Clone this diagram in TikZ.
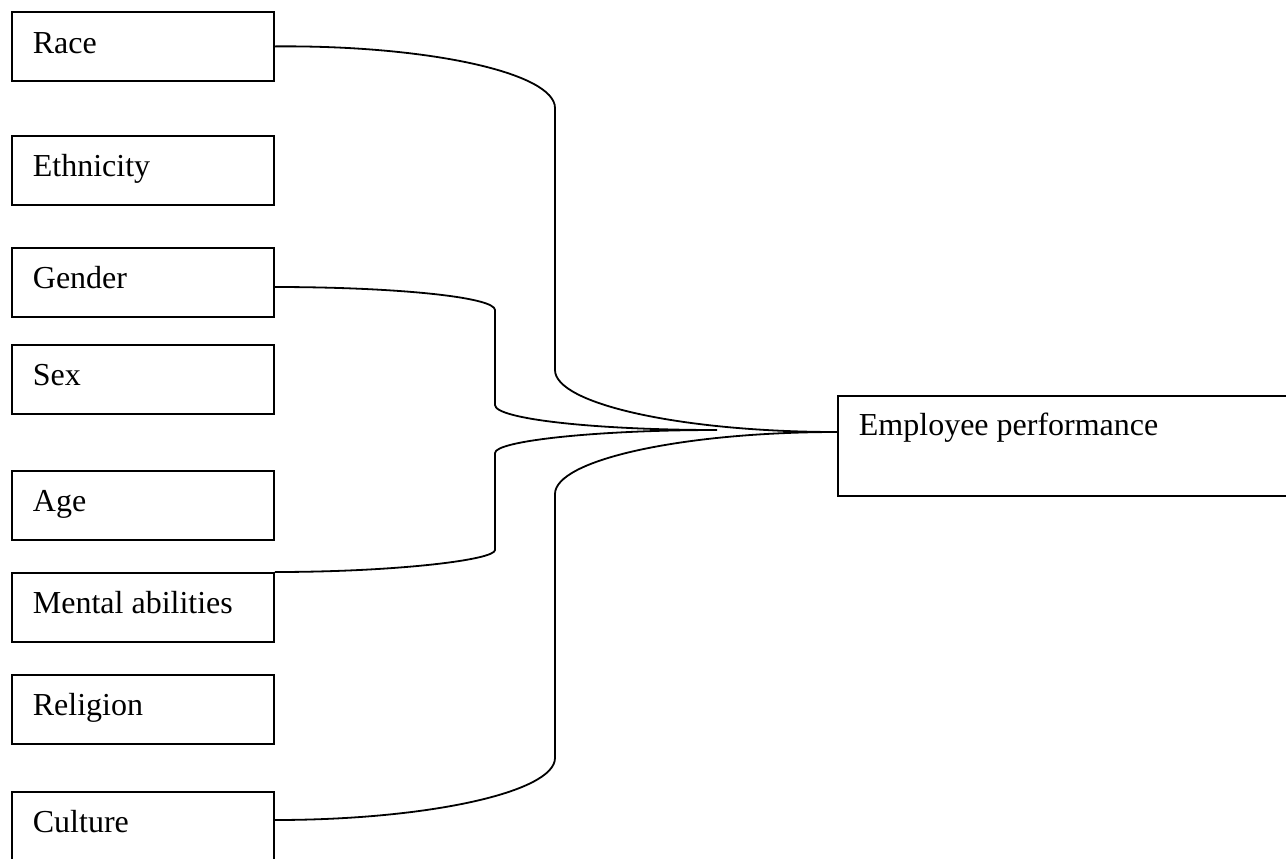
\documentclass[tikz,border=0pt]{standalone}
\usepackage{fontspec}
\setmainfont{Liberation Serif}
\usetikzlibrary{calc}
\begin{document}
\begin{tikzpicture}[x=0.75pt,y=-0.75pt,line width=1.35pt,
  box/.style={draw,line width=1.35pt,minimum width=196.5pt,minimum height=51.75pt,anchor=north west,inner sep=0pt},
  lbl/.style={anchor=base west,inner sep=0pt,font=\fontsize{24}{28}\selectfont}]
\useasboundingbox (0,0) rectangle (1286,858);
\clip (0,0) rectangle (1286,858);
\node[box] (race) at (11,11) {};
\node[box] (eth) at (11,135) {};
\node[box] (gen) at (11,247) {};
\node[box] (sex) at (11,344) {};
\node[box] (age) at (11,470) {};
\node[box] (men) at (11,572) {};
\node[box] (rel) at (11,674) {};
\node[box,minimum height=60pt] (cul) at (11,791) {};
\node[box,minimum width=350pt,minimum height=75pt] (ep) at (837,395) {};
\node[lbl] at ($(race.north west)+(21,42)$) {Race};
\node[lbl] at ($(eth.north west)+(21,41)$) {Ethnicity};
\node[lbl] at ($(gen.north west)+(21,41)$) {Gender};
\node[lbl] at ($(sex.north west)+(21,41)$) {Sex};
\node[lbl] at ($(age.north west)+(21,41)$) {Age};
\node[lbl] at ($(men.north west)+(21,41)$) {Mental abilities};
\node[lbl] at ($(rel.north west)+(21,41)$) {Religion};
\node[lbl] at ($(cul.north west)+(21,41)$) {Culture};
\node[lbl] at ($(ep.north west)+(21,40)$) {Employee performance};
\coordinate (gpt) at ($(gen.north east)+(0,40)$);
\coordinate (cpt) at ($(cul.north east)+(0,29)$);
\coordinate (otip) at ($(ep.north west)+(0,37)$);
\coordinate (itip) at (717,430);
\draw (race.east) .. controls (428,45) and (555,73) .. (555,108) -- (555,370)
  .. controls (555,404) and (682,432) .. (otip)
  .. controls (682,432) and (555,460) .. (555,494) -- (555,758)
  .. controls (555,792) and (428,820) .. (cpt);
\draw (gpt) .. controls (395,287) and (495,297) .. (495,310) -- (495,405)
  .. controls (495,419) and (595,430) .. (itip)
  .. controls (595,430) and (495,441) .. (495,453) -- (495,550)
  .. controls (495,560) and (395,572) .. (men.north east);
\end{tikzpicture}
\end{document}
